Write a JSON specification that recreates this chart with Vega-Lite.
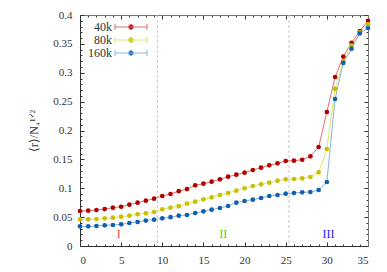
{
  "$schema": "https://vega.github.io/schema/vega-lite/v6.json",
  "width": 288,
  "height": 231,
  "autosize": "none",
  "padding": {"left": 80, "top": 15, "right": 19, "bottom": 26},
  "background": "white",
  "config": {
    "view": {"stroke": null},
    "font": "Liberation Serif",
    "axis": {"domainColor": "#333", "tickColor": "#333", "labelFont": "Liberation Serif", "labelFontSize": 11, "labelColor": "#333", "grid": false, "titleFont": "Liberation Serif", "titleFontWeight": "normal", "titleFontSize": 11, "titleColor": "#333"},
    "legend": {"labelFont": "Liberation Serif", "labelFontSize": 11, "labelColor": "#333"}
  },
  "datasets": {
    "d": [
      {"x":0,"series":"40k","r":0.0606},{"x":1,"series":"40k","r":0.0612},{"x":2,"series":"40k","r":0.0623},{"x":3,"series":"40k","r":0.064},{"x":4,"series":"40k","r":0.0664},{"x":5,"series":"40k","r":0.068},{"x":6,"series":"40k","r":0.0716},{"x":7,"series":"40k","r":0.075},{"x":8,"series":"40k","r":0.0785},{"x":9,"series":"40k","r":0.082},{"x":10,"series":"40k","r":0.0866},{"x":11,"series":"40k","r":0.09},{"x":12,"series":"40k","r":0.095},{"x":13,"series":"40k","r":0.0985},{"x":14,"series":"40k","r":0.105},{"x":15,"series":"40k","r":0.108},{"x":16,"series":"40k","r":0.1114},{"x":17,"series":"40k","r":0.1155},{"x":18,"series":"40k","r":0.12},{"x":19,"series":"40k","r":0.1235},{"x":20,"series":"40k","r":0.127},{"x":21,"series":"40k","r":0.1316},{"x":22,"series":"40k","r":0.1356},{"x":23,"series":"40k","r":0.1397},{"x":24,"series":"40k","r":0.1432},{"x":25,"series":"40k","r":0.1472},{"x":26,"series":"40k","r":0.1478},{"x":27,"series":"40k","r":0.1494},{"x":28,"series":"40k","r":0.1553},{"x":29,"series":"40k","r":0.1714},{"x":30,"series":"40k","r":0.232},{"x":31,"series":"40k","r":0.2926},{"x":32,"series":"40k","r":0.328},{"x":33,"series":"40k","r":0.352},{"x":34,"series":"40k","r":0.372},{"x":35,"series":"40k","r":0.39},
      {"x":0,"series":"80k","r":0.046},{"x":1,"series":"80k","r":0.046},{"x":2,"series":"80k","r":0.0466},{"x":3,"series":"80k","r":0.048},{"x":4,"series":"80k","r":0.049},{"x":5,"series":"80k","r":0.0508},{"x":6,"series":"80k","r":0.0525},{"x":7,"series":"80k","r":0.055},{"x":8,"series":"80k","r":0.0566},{"x":9,"series":"80k","r":0.0589},{"x":10,"series":"80k","r":0.0635},{"x":11,"series":"80k","r":0.0664},{"x":12,"series":"80k","r":0.069},{"x":13,"series":"80k","r":0.0733},{"x":14,"series":"80k","r":0.0767},{"x":15,"series":"80k","r":0.0808},{"x":16,"series":"80k","r":0.0843},{"x":17,"series":"80k","r":0.0883},{"x":18,"series":"80k","r":0.0918},{"x":19,"series":"80k","r":0.0958},{"x":20,"series":"80k","r":0.0999},{"x":21,"series":"80k","r":0.1039},{"x":22,"series":"80k","r":0.1068},{"x":23,"series":"80k","r":0.1097},{"x":24,"series":"80k","r":0.1131},{"x":25,"series":"80k","r":0.1155},{"x":26,"series":"80k","r":0.116},{"x":27,"series":"80k","r":0.1172},{"x":28,"series":"80k","r":0.1195},{"x":29,"series":"80k","r":0.1276},{"x":30,"series":"80k","r":0.168},{"x":31,"series":"80k","r":0.272},{"x":32,"series":"80k","r":0.32},{"x":33,"series":"80k","r":0.347},{"x":34,"series":"80k","r":0.37},{"x":35,"series":"80k","r":0.384},
      {"x":0,"series":"160k","r":0.034},{"x":1,"series":"160k","r":0.034},{"x":2,"series":"160k","r":0.0346},{"x":3,"series":"160k","r":0.0358},{"x":4,"series":"160k","r":0.0364},{"x":5,"series":"160k","r":0.0375},{"x":6,"series":"160k","r":0.0398},{"x":7,"series":"160k","r":0.0416},{"x":8,"series":"160k","r":0.044},{"x":9,"series":"160k","r":0.0456},{"x":10,"series":"160k","r":0.048},{"x":11,"series":"160k","r":0.05},{"x":12,"series":"160k","r":0.0525},{"x":13,"series":"160k","r":0.0537},{"x":14,"series":"160k","r":0.0571},{"x":15,"series":"160k","r":0.06},{"x":16,"series":"160k","r":0.0629},{"x":17,"series":"160k","r":0.0658},{"x":18,"series":"160k","r":0.0693},{"x":19,"series":"160k","r":0.075},{"x":20,"series":"160k","r":0.0779},{"x":21,"series":"160k","r":0.0802},{"x":22,"series":"160k","r":0.0831},{"x":23,"series":"160k","r":0.0866},{"x":24,"series":"160k","r":0.0883},{"x":25,"series":"160k","r":0.0906},{"x":26,"series":"160k","r":0.0918},{"x":27,"series":"160k","r":0.093},{"x":28,"series":"160k","r":0.0935},{"x":29,"series":"160k","r":0.097},{"x":30,"series":"160k","r":0.1108},{"x":31,"series":"160k","r":0.2545},{"x":32,"series":"160k","r":0.317},{"x":33,"series":"160k","r":0.3417},{"x":34,"series":"160k","r":0.368},{"x":35,"series":"160k","r":0.3775}
    ],
    "rules": [{"x": 9.4}, {"x": 25.4}],
    "regions": [{"x": 4.7, "y": 0.021, "t": "I"}, {"x": 17.4, "y": 0.021, "t": "II"}, {"x": 30.2, "y": 0.021, "t": "III"}]
  },
  "resolve": {"axis": {"x": "independent", "y": "independent"}},
  "layer": [
    {
      "data": {"name": "rules"},
      "mark": {"type": "rule", "color": "#c8c8c8", "strokeDash": [3, 2], "strokeWidth": 1},
      "encoding": {
        "x": {"field": "x", "type": "quantitative", "scale": {"domain": [0, 35], "nice": false, "zero": false}, "axis": null}
      }
    },
    {
      "data": {"name": "d"},
      "mark": {"type": "line", "strokeWidth": 1},
      "encoding": {
        "x": {"field": "x", "type": "quantitative", "scale": {"domain": [0, 35], "nice": false},
          "axis": {"orient": "bottom", "title": null, "labelFont": "Liberation Serif", "values": [0,1,2,3,4,5,6,7,8,9,10,11,12,13,14,15,16,17,18,19,20,21,22,23,24,25,26,27,28,29,30,31,32,33,34,35],
            "labelExpr": "datum.value % 5 === 0 ? datum.label : ''", "labelPadding": 12,
            "tickSize": {"condition": {"test": "datum.value % 5 === 0", "value": -4}, "value": -2}}},
        "y": {"field": "r", "type": "quantitative", "scale": {"domain": [0, 0.4], "nice": false},
          "axis": {"orient": "left", "title": "⟨r⟩/N₄¹ᐟ²", "titleFont": "Liberation Serif", "titleFontSize": 12, "titlePadding": 12, "labelFont": "Liberation Serif", "values": [0,0.01,0.02,0.03,0.04,0.05,0.06,0.07,0.08,0.09,0.1,0.11,0.12,0.13,0.14,0.15,0.16,0.17,0.18,0.19,0.2,0.21,0.22,0.23,0.24,0.25,0.26,0.27,0.28,0.29,0.3,0.31,0.32,0.33,0.34,0.35,0.36,0.37,0.38,0.39,0.4],
            "labelExpr": "round(datum.value*100) % 5 === 0 ? format(datum.value, '~g') : ''", "labelPadding": 12,
            "tickSize": {"condition": {"test": "round(datum.value*100) % 5 === 0", "value": -4}, "value": -2}}},
        "stroke": {"field": "series", "type": "nominal", "scale": {"domain": ["40k", "80k", "160k"], "range": ["#e07070", "#e3e36a", "#86b4e0"]}},
        "detail": {"field": "series"}
      }
    },
    {
      "data": {"name": "d"},
      "mark": {"type": "point", "filled": true, "shape": "circle", "size": 22, "opacity": 1},
      "encoding": {
        "x": {"field": "x", "type": "quantitative", "axis": null},
        "y": {"field": "r", "type": "quantitative", "axis": null},
        "color": {"field": "series", "type": "nominal", "scale": {"domain": ["40k", "80k", "160k"], "range": ["#b00000", "#c8c000", "#1060b0"]},
          "legend": {"title": null, "orient": "none", "legendX": 45, "legendY": 6, "padding": 0, "rowPadding": 1,
            "labelFont": "Liberation Serif", "labelFontSize": 12,
            "symbolType": "M-3.2,0H3.2M-3.2,-0.6V0.6M3.2,-0.6V0.6M0.5,0A0.5,0.5,0,1,1,-0.5,0A0.5,0.5,0,1,1,0.5,0Z",
            "symbolSize": 100, "symbolStrokeWidth": 1, "symbolOpacity": 1, "labelAlign": "right", "labelOffset": -25}}
      }
    },
    {
      "data": {"name": "regions"},
      "mark": {"type": "text", "font": "Liberation Serif", "fontSize": 12},
      "encoding": {
        "x": {"field": "x", "type": "quantitative",
          "axis": {"orient": "top", "title": null, "labels": false, "values": [0,1,2,3,4,5,6,7,8,9,10,11,12,13,14,15,16,17,18,19,20,21,22,23,24,25,26,27,28,29,30,31,32,33,34,35],
            "tickSize": {"condition": {"test": "datum.value % 5 === 0", "value": -4}, "value": -2}, "domainColor": "#777"}},
        "y": {"field": "y", "type": "quantitative",
          "axis": {"orient": "right", "title": null, "labels": false, "values": [0,0.01,0.02,0.03,0.04,0.05,0.06,0.07,0.08,0.09,0.1,0.11,0.12,0.13,0.14,0.15,0.16,0.17,0.18,0.19,0.2,0.21,0.22,0.23,0.24,0.25,0.26,0.27,0.28,0.29,0.3,0.31,0.32,0.33,0.34,0.35,0.36,0.37,0.38,0.39,0.4],
            "tickSize": {"condition": {"test": "round(datum.value*100) % 5 === 0", "value": -4}, "value": -2}, "domainColor": "#777"}},
        "text": {"field": "t"},
        "fill": {"field": "t", "type": "nominal", "scale": {"domain": ["I", "II", "III"], "range": ["#ff4848", "#33dd33", "#1818ff"]}, "legend": null}
      }
    }
  ]
}
